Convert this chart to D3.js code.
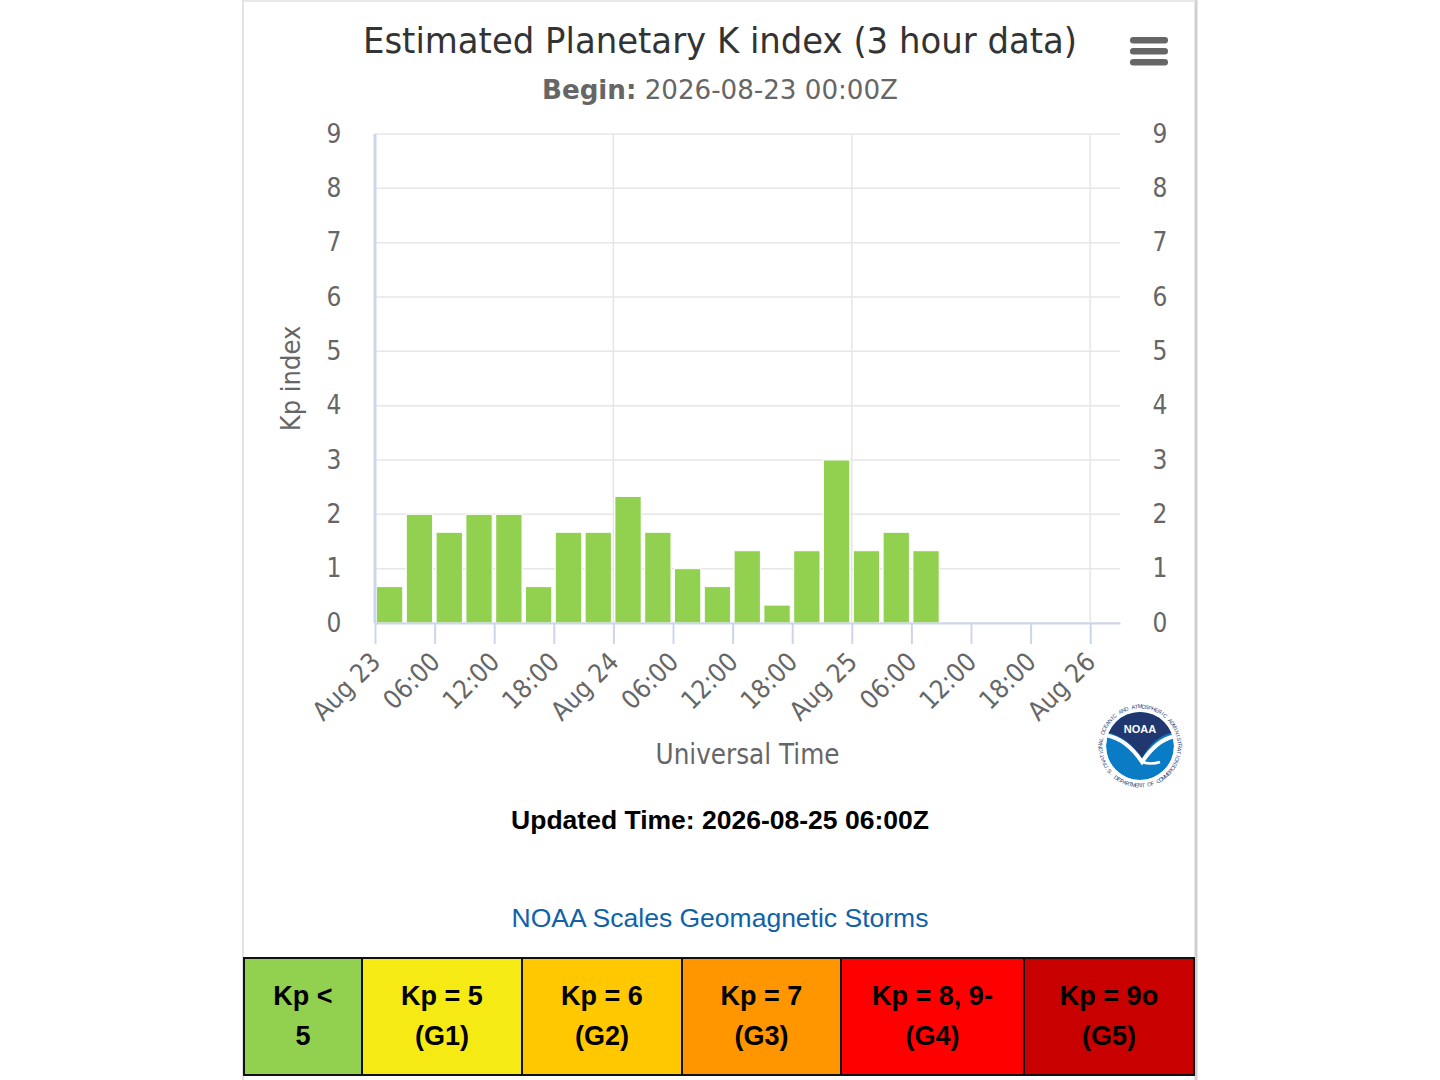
<!DOCTYPE html>
<html lang="en">
<head>
    <meta charset="UTF-8">
    <title>Estimated Planetary K index</title>
    <script src="https://d3js.org/d3.v7.min.js"></script>
    <style>
        body { margin: 0; background: #fff; }
        svg { display: block; }
    </style>
</head>
<body>
<script>

// 3-hour interval start times (UTC) and estimated Kp values
const barStarts = [
    "2026-08-23T00:00Z", "2026-08-23T03:00Z", "2026-08-23T06:00Z", "2026-08-23T09:00Z",
    "2026-08-23T12:00Z", "2026-08-23T15:00Z", "2026-08-23T18:00Z", "2026-08-23T21:00Z",
    "2026-08-24T00:00Z", "2026-08-24T03:00Z", "2026-08-24T06:00Z", "2026-08-24T09:00Z",
    "2026-08-24T12:00Z", "2026-08-24T15:00Z", "2026-08-24T18:00Z", "2026-08-24T21:00Z",
    "2026-08-25T00:00Z", "2026-08-25T03:00Z", "2026-08-25T06:00Z"
];
const kpValues = [0.67, 2, 1.67, 2, 2, 0.67, 1.67, 1.67, 2.33, 1.67, 1, 0.67, 1.33, 0.33, 1.33, 3, 1.33, 1.67, 1.33];

const yTicks = [0, 1, 2, 3, 4, 5, 6, 7, 8, 9];
const xStart = "2026-08-23T00:00Z";
const xEnd = "2026-08-26T03:00Z";

// NOAA scale table
const scaleTop = ["Kp <", "Kp = 5", "Kp = 6", "Kp = 7", "Kp = 8, 9-", "Kp = 9o"];
const scaleBottom = ["5", "(G1)", "(G2)", "(G3)", "(G4)", "(G5)"];
const scaleColors = ["#92d050", "#f5ea14", "#ffc800", "#ff9600", "#ff0000", "#c80000"];
const scaleEdges = [244, 362, 522, 682, 841, 1024, 1194];

const W = 1440, H = 1080;
const plotL = 375, plotR = 1120, plotT = 134, plotB = 623;
const chartFont = "'DejaVu Sans Condensed', 'DejaVu Sans', sans-serif";
const plainFont = "'Liberation Sans', Arial, sans-serif";

const svg = d3.select("body").append("svg")
    .attr("width", W)
    .attr("height", H);

// panel borders
svg.append("line").attr("x1", 243).attr("x2", 243).attr("y1", 0).attr("y2", H)
    .attr("stroke", "#d8d8d8").attr("stroke-width", 1.5);
svg.append("line").attr("x1", 1196).attr("x2", 1196).attr("y1", 0).attr("y2", H)
    .attr("stroke", "#d0d0d0").attr("stroke-width", 3);
svg.append("line").attr("x1", 243).attr("x2", 1196).attr("y1", 1).attr("y2", 1)
    .attr("stroke", "#e0e0e0").attr("stroke-width", 1.5);

const x = d3.scaleUtc()
    .domain([new Date(xStart), new Date(xEnd)])
    .range([plotL, plotR]);

const y = d3.scaleLinear()
    .domain([0, 9])
    .range([plotB, plotT]);

// horizontal grid
svg.append("g")
    .selectAll("line")
    .data(yTicks)
    .join("line")
    .attr("x1", plotL).attr("x2", plotR)
    .attr("y1", d => y(d)).attr("y2", d => y(d))
    .attr("stroke", "#e6e6e6").attr("stroke-width", 1.5);

// vertical day grid
const dayTicks = d3.utcDay.range(new Date("2026-08-24T00:00Z"), new Date(xEnd));
svg.append("g")
    .selectAll("line")
    .data(dayTicks)
    .join("line")
    .attr("x1", d => x(d)).attr("x2", d => x(d))
    .attr("y1", plotT).attr("y2", plotB)
    .attr("stroke", "#e6e6e6").attr("stroke-width", 1.5);

// bars
svg.append("g")
    .selectAll("rect")
    .data(barStarts.map((s, i) => ({ t: new Date(s), v: kpValues[i] })))
    .join("rect")
    .attr("x", d => x(d.t) + 1.5)
    .attr("width", d => x(d3.utcHour.offset(d.t, 3)) - x(d.t) - 3.5)
    .attr("y", d => y(d.v))
    .attr("height", d => y(0) - y(d.v))
    .attr("fill", "#92d050")
    .attr("stroke", "#fff")
    .attr("stroke-width", 1);

// x axis
const sixHours = d3.utcHour.every(6).range(new Date(xStart), new Date("2026-08-26T00:01Z"));
const fmtDay = d3.utcFormat("%b %d");
const fmtHour = d3.utcFormat("%H:%M");
const xAxis = d3.axisBottom(x)
    .tickValues(sixHours)
    .tickSize(21)
    .tickSizeOuter(0)
    .tickFormat(d => d.getUTCHours() === 0 ? fmtDay(d) : fmtHour(d));

const gx = svg.append("g")
    .attr("transform", "translate(0," + plotB + ")")
    .call(xAxis);
gx.select(".domain").attr("stroke", "#ccd6eb").attr("stroke-width", 2);
gx.selectAll(".tick line").attr("stroke", "#ccd6eb").attr("stroke-width", 2);
gx.selectAll(".tick text")
    .attr("x", 0).attr("y", 0).attr("dy", "0.35em")
    .attr("text-anchor", "end")
    .attr("transform", "translate(0,34) rotate(-45)")
    .attr("fill", "#666")
    .style("font-family", chartFont)
    .style("font-size", "26px");

// left axis line
svg.append("line")
    .attr("x1", plotL).attr("x2", plotL)
    .attr("y1", plotT).attr("y2", plotB)
    .attr("stroke", "#ccd6eb").attr("stroke-width", 3);

// y labels both sides
const yAxisL = d3.axisLeft(y).tickValues(yTicks).tickSize(0).tickPadding(0);
const gyl = svg.append("g").attr("transform", "translate(334,0)").call(yAxisL);
const yAxisR = d3.axisRight(y).tickValues(yTicks).tickSize(0).tickPadding(0);
const gyr = svg.append("g").attr("transform", "translate(1160,0)").call(yAxisR);
[gyl, gyr].forEach(g => {
    g.select(".domain").remove();
    g.selectAll(".tick text")
        .attr("x", 0)
        .attr("text-anchor", "middle")
        .attr("fill", "#666")
        .style("font-family", chartFont)
        .style("font-size", "26px");
});

// axis titles
svg.append("text")
    .attr("transform", "translate(300," + ((plotT + plotB) / 2) + ") rotate(-90)")
    .attr("text-anchor", "middle")
    .attr("fill", "#666")
    .style("font-family", chartFont)
    .style("font-size", "27px")
    .text("Kp index");

svg.append("text")
    .attr("x", (plotL + plotR) / 2)
    .attr("y", 764)
    .attr("text-anchor", "middle")
    .attr("fill", "#666")
    .style("font-family", chartFont)
    .style("font-size", "27.5px")
    .text("Universal Time");

// title + subtitle
svg.append("text")
    .attr("x", 720).attr("y", 53)
    .attr("text-anchor", "middle")
    .attr("textLength", 714)
    .attr("lengthAdjust", "spacingAndGlyphs")
    .attr("fill", "#333")
    .style("font-family", chartFont)
    .style("font-size", "36px")
    .text("Estimated Planetary K index (3 hour data)");

const sub = svg.append("text")
    .attr("x", 720).attr("y", 99)
    .attr("text-anchor", "middle")
    .attr("textLength", 356)
    .attr("lengthAdjust", "spacingAndGlyphs")
    .attr("fill", "#666")
    .style("font-family", chartFont)
    .style("font-size", "27px");
sub.append("tspan").attr("font-weight", "bold").text("Begin:");
sub.append("tspan").text(" 2026-08-23 00:00Z");

// menu icon
svg.append("g")
    .selectAll("rect")
    .data([0, 1, 2])
    .join("rect")
    .attr("x", 1130).attr("y", d => 37 + d * 11)
    .attr("width", 38).attr("height", 6.5)
    .attr("rx", 3.2)
    .attr("fill", "#666");

// NOAA logo (simplified)
const logo = svg.append("g").attr("transform", "translate(1140,746)");
const defs = svg.append("defs");
defs.append("clipPath").attr("id", "logoClip")
    .append("circle").attr("r", 34);
logo.append("circle").attr("r", 44).attr("fill", "#fff");

// ring lettering, one glyph at a time
const ringTop = "NATIONAL OCEANIC AND ATMOSPHERIC ADMINISTRATION".split("");
const ringBottom = "U.S. DEPARTMENT OF COMMERCE".split("");
const topStep = 5, bottomStep = 4.6, ringR = 39.5;
logo.append("g")
    .selectAll("text")
    .data(ringTop)
    .join("text")
    .attr("transform", (c, i) => {
        const a = -((ringTop.length - 1) * topStep) / 2 + i * topStep;
        return "rotate(" + a + ") translate(0," + (-ringR) + ")";
    })
    .attr("text-anchor", "middle")
    .attr("dy", "0.35em")
    .attr("fill", "#1f3a78")
    .style("font-family", plainFont)
    .style("font-size", "5.5px")
    .text(c => c);
logo.append("g")
    .selectAll("text")
    .data(ringBottom)
    .join("text")
    .attr("transform", (c, i) => {
        const a = ((ringBottom.length - 1) * bottomStep) / 2 - i * bottomStep;
        return "rotate(" + a + ") translate(0," + ringR + ")";
    })
    .attr("text-anchor", "middle")
    .attr("dy", "0.35em")
    .attr("fill", "#1f3a78")
    .style("font-family", plainFont)
    .style("font-size", "5.5px")
    .text(c => c);

const inner = logo.append("g").attr("clip-path", "url(#logoClip)");
inner.append("circle").attr("r", 34).attr("fill", "#0a7cc6");
inner.append("path")
    .attr("d", "M -36,-36 L 36,-36 L 36,-14 C 20,-12 10,-2 2,12 C -8,-2 -20,-12 -36,-14 Z")
    .attr("fill", "#20386f");
inner.append("path")
    .attr("d", "M -36,-11 C -20,-9 -8,1 2,16 C 10,4 22,-8 36,-10")
    .attr("fill", "none").attr("stroke", "#fff").attr("stroke-width", 4);
inner.append("path")
    .attr("d", "M 2,16 C 8,18 14,18 20,16")
    .attr("fill", "none").attr("stroke", "#fff").attr("stroke-width", 2.5);
logo.append("text")
    .attr("y", -13)
    .attr("text-anchor", "middle")
    .attr("fill", "#fff")
    .style("font-family", plainFont)
    .style("font-weight", "bold")
    .style("font-size", "11px")
    .text("NOAA");

// footer text
svg.append("text")
    .attr("x", 720).attr("y", 829)
    .attr("text-anchor", "middle")
    .attr("fill", "#000")
    .style("font-family", plainFont)
    .style("font-weight", "bold")
    .style("font-size", "26.5px")
    .text("Updated Time: 2026-08-25 06:00Z");

svg.append("text")
    .attr("x", 720).attr("y", 927)
    .attr("text-anchor", "middle")
    .attr("fill", "#0f62aa")
    .style("font-family", plainFont)
    .style("font-size", "26.5px")
    .text("NOAA Scales Geomagnetic Storms");

// scale table
const cells = svg.append("g")
    .selectAll("g")
    .data(scaleColors.map((c, i) => ({ c, i })))
    .join("g");
cells.append("rect")
    .attr("x", d => scaleEdges[d.i])
    .attr("y", 958)
    .attr("width", d => scaleEdges[d.i + 1] - scaleEdges[d.i])
    .attr("height", 117)
    .attr("fill", d => d.c)
    .attr("stroke", "#111")
    .attr("stroke-width", 2);
const cellText = cells.append("text")
    .attr("text-anchor", "middle")
    .attr("fill", "#000")
    .style("font-family", "'Liberation Sans Narrow', 'Liberation Sans', Arial, sans-serif")
    .style("font-weight", "bold")
    .style("font-size", "27px");
cellText.append("tspan")
    .attr("x", d => (scaleEdges[d.i] + scaleEdges[d.i + 1]) / 2)
    .attr("y", 1005)
    .text(d => scaleTop[d.i]);
cellText.append("tspan")
    .attr("x", d => (scaleEdges[d.i] + scaleEdges[d.i + 1]) / 2)
    .attr("y", 1045)
    .text(d => scaleBottom[d.i]);

</script>
</body>
</html>
